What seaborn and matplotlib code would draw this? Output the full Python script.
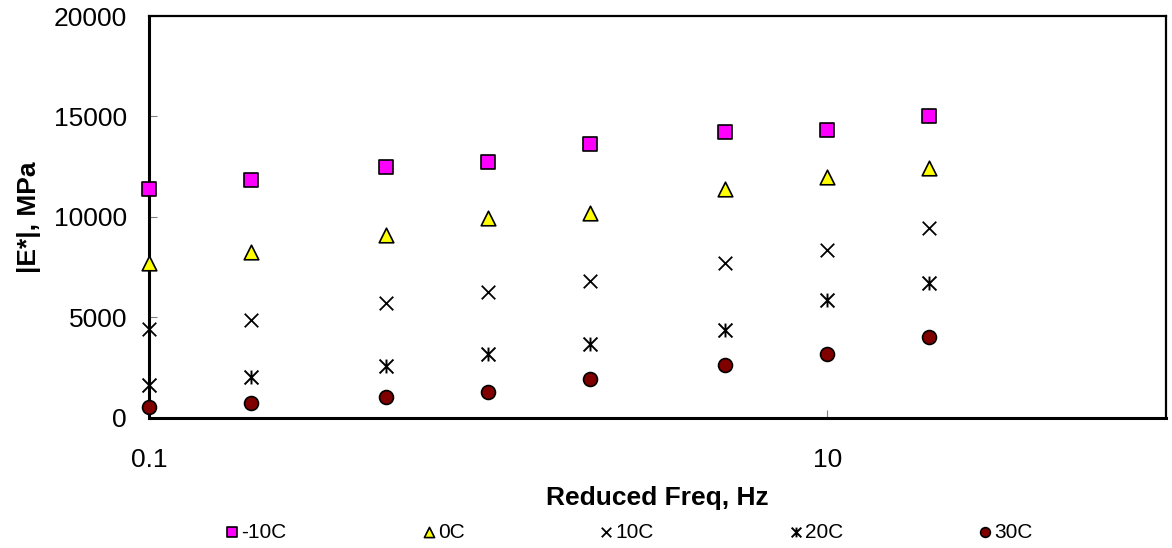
import numpy as np
import pandas as pd
import matplotlib
matplotlib.use("Agg")
import matplotlib.pyplot as plt
from matplotlib.path import Path
from matplotlib.ticker import NullLocator
import seaborn as sns

# values
freq = [0.1, 0.2, 0.5, 1, 2, 5, 10, 20]
temps = ["-10C", "0C", "10C", "20C", "30C"]
e_m10 = [11380, 11840, 12470, 12750, 13620, 14250, 14330, 15040]
e_0 = [7700, 8280, 9100, 9930, 10220, 11380, 11970, 12420]
e_10 = [4410, 4880, 5710, 6290, 6800, 7700, 8380, 9470]
e_20 = [1640, 2060, 2600, 3170, 3670, 4380, 5870, 6730]
e_30 = [560, 760, 1030, 1310, 1940, 2620, 3180, 4050]

df = pd.DataFrame({
    "freq": freq * 5,
    "E": e_m10 + e_0 + e_10 + e_20 + e_30,
    "temp": [t for t in temps for _ in freq],
})

sns.set_theme(style="white", rc={"text.color": "black", "axes.labelcolor": "black",
                                 "xtick.color": "black", "ytick.color": "black"})
plt.rcParams["font.family"] = ["Liberation Sans", "DejaVu Sans"]

# excel style asterisk: an x with a vertical bar
star = Path([(-1, -1), (1, 1), (-1, 1), (1, -1), (0, -1), (0, 1)],
            [Path.MOVETO, Path.LINETO, Path.MOVETO, Path.LINETO, Path.MOVETO, Path.LINETO])

styles = {
    "-10C": dict(marker="s", color="#FF00FF", edgecolor="black", linewidth=1.2, s=100),
    "0C": dict(marker="^", color="#FFFF00", edgecolor="black", linewidth=1.2, s=110),
    "10C": dict(marker="x", color="black", linewidth=1.3, s=95),
    "20C": dict(marker=star, color="black", edgecolor="black", linewidth=1.4, s=100),
    "30C": dict(marker="o", color="#800000", edgecolor="black", linewidth=1.2, s=100),
}

fig = plt.figure(figsize=(11.72, 5.48), dpi=100)
ax = fig.add_axes([0.1274, 0.2374, 0.8677, 0.7334])

for t in temps:
    sub = df[df["temp"] == t]
    sns.scatterplot(data=sub, x="freq", y="E", ax=ax, label=t,
                    clip_on=False, zorder=3, **styles[t])

ax.set_xscale("log")
ax.set_xlim(0.1, 100)
ax.set_ylim(0, 20000)
ax.set_xticks([0.1, 10])
ax.set_xticklabels(["0.1", "10"])
ax.xaxis.set_minor_locator(NullLocator())
ax.set_yticks([0, 5000, 10000, 15000, 20000])
ax.set_yticklabels(["0", "5000", "10000", "15000", "20000"])

ax.tick_params(axis="both", direction="in", length=6, width=0.8, color="gray",
               labelsize=19, labelcolor="black")
ax.tick_params(axis="x", pad=22)
ax.tick_params(axis="y", pad=16)
ax.tick_params(bottom=True, left=True)

for side in ["top", "right", "bottom", "left"]:
    ax.spines[side].set_visible(True)
    ax.spines[side].set_color("black")
    ax.spines[side].set_linewidth(1.6)
ax.spines["left"].set_linewidth(2.2)
ax.spines["bottom"].set_linewidth(2.2)

ax.set_xlabel("Reduced Freq, Hz", fontsize=19, fontweight="bold", labelpad=10, color="black")
ax.set_ylabel("|E*|, MPa", fontsize=19, fontweight="bold", labelpad=9, color="black")

handles, labels = ax.get_legend_handles_labels()
if ax.get_legend() is not None:
    ax.get_legend().remove()
leg = fig.legend(handles, labels, loc="center", bbox_to_anchor=(0.537, 0.029), ncol=5,
                 frameon=False, fontsize=15, markerscale=0.7, handlelength=0.6,
                 handletextpad=0.15, columnspacing=6.5, borderpad=0)
for txt in leg.get_texts():
    txt.set_color("black")

fig.savefig("out.png", dpi=100)
